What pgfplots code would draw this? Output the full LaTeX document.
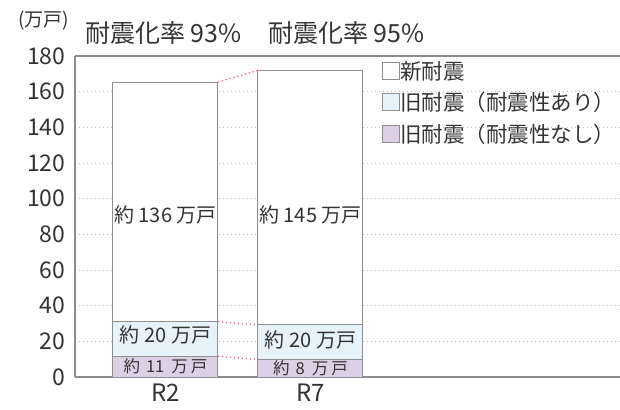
\documentclass[border=0pt]{standalone}
\usepackage{pgfplots}
\pgfplotsset{compat=1.18}
\usepackage{fontspec}
\setmainfont{Noto Sans CJK JP}
\definecolor{txt}{HTML}{333333}
\definecolor{oldyes}{HTML}{E6F3FB}
\definecolor{oldno}{HTML}{DCD0E6}
\definecolor{edge}{HTML}{8F8F8F}
\definecolor{grid}{HTML}{999999}
\definecolor{axl}{HTML}{8C8C8C}
\definecolor{conn}{HTML}{EE5FA7}
\pgfplotsset{
  legsq/.style={legend image code/.code={\draw[##1, draw=edge, line width=0.9pt] (0pt,-8.5pt) rectangle (17pt,8.5pt);}},
}
\begin{document}
\begin{tikzpicture}[font=\color{txt}]
\begin{axis}[
  at={(0,0)}, anchor=south west,
  scale only axis, width=545pt, height=321pt,
  xmin=-0.624, xmax=3.135, ymin=0, ymax=180,
  ybar stacked, bar width=105pt,
  axis x line*=box, axis y line*=left,
  every outer x axis line/.append style={-},
  every outer y axis line/.append style={-},
  axis line style={axl, line width=1.2pt, -},
  major tick length=0pt, tick style={draw=none},
  xtick pos=lower, ytick pos=left, xmajorgrids=false,
  xtick={0,1}, xticklabels={R2,R7},
  ytick={0,20,...,180},
  /pgf/number format/assume math mode=true,
  yticklabel style={font=\fontsize{23}{23}\selectfont\color{txt}, xshift=-6pt},
  xticklabel style={font=\fontsize{24}{24}\selectfont\color{txt}, yshift=-6pt, inner sep=1pt},
  ymajorgrids,
  major grid style={grid, line width=0.8pt, dash pattern=on 1pt off 3pt},
  reverse legend,
  legend style={draw=none, fill=none, anchor=north west, at={(0.563,0.985)},
    font=\fontsize{21.5}{21.5}\selectfont\color{txt}, row sep=10.5pt, inner sep=0pt,
    nodes={inner sep=0.5pt}},
  legend cell align=left,
  clip=false,
]
\addplot[fill=oldno, draw=edge, line width=1pt, legsq] coordinates {(0,11.6) (1,9.9)};
\addplot[fill=oldyes, draw=edge, line width=1pt, legsq] coordinates {(0,19.4) (1,19.3)};
\addplot[fill=white, draw=edge, line width=1pt, legsq] coordinates {(0,134.4) (1,142.8)};
\legend{旧耐震（耐震性なし）,旧耐震（耐震性あり）,新耐震}
\end{axis}
\begin{axis}[
  at={(0,0)}, anchor=south west,
  scale only axis, width=545pt, height=321pt,
  xmin=-0.624, xmax=3.135, ymin=0, ymax=180,
  hide axis, clip=false,
]
\addplot[conn, line width=1.3pt, dash pattern=on 1.3pt off 2.7pt] coordinates {(0.362,165.4) (0.638,172.0)};
\addplot[conn, line width=1.3pt, dash pattern=on 1.3pt off 2.7pt] coordinates {(0.362,31.0) (0.638,29.2)};
\addplot[conn, line width=1.3pt, dash pattern=on 1.3pt off 2.7pt] coordinates {(0.362,11.6) (0.638,9.9)};
\node[font=\fontsize{20}{20}\selectfont\color{txt}] at (axis cs:0,90.9) {約 136 万戸};
\node[font=\fontsize{20}{20}\selectfont\color{txt}] at (axis cs:1,90.9) {約 145 万戸};
\node[font=\fontsize{20}{20}\selectfont\color{txt}] at (axis cs:0,23.6) {約 20 万戸};
\node[font=\fontsize{20}{20}\selectfont\color{txt}] at (axis cs:1,20.8) {約 20 万戸};
\node[font=\fontsize{16.5}{16.5}\selectfont\color{txt}] at (axis cs:0,6.3) {約\hspace{6pt}11\hspace{7pt}万\hspace{3pt}戸};
\node[font=\fontsize{16.5}{16.5}\selectfont\color{txt}] at (axis cs:1,5.0) {約\hspace{6pt}8\hspace{7pt}万\hspace{3pt}戸};
\end{axis}
\node[font=\fontsize{19}{19}\selectfont\color{txt}] at (-31pt,356pt) {(万戸)};
\node[font=\fontsize{25}{25}\selectfont\color{txt}, anchor=west, inner sep=0pt] at (10pt,344pt) {耐震化率 93\%};
\node[font=\fontsize{25}{25}\selectfont\color{txt}, anchor=west, inner sep=0pt] at (193pt,344pt) {耐震化率 95\%};
\pgfresetboundingbox
\path[use as bounding box] (-75pt,-32pt) rectangle (545pt,377pt);
\end{tikzpicture}
\end{document}
